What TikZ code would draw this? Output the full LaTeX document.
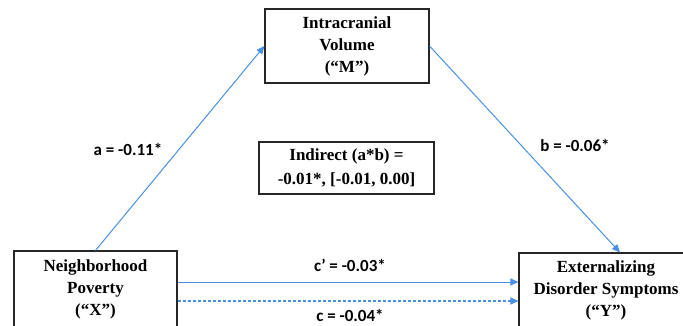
\documentclass[tikz,border=0pt]{standalone}
\usepackage{fontspec}
\setmainfont{Liberation Serif}
\newfontfamily\labfont{Carlito}
\usetikzlibrary{arrows.meta}
\definecolor{arrblue}{RGB}{74,144,226}
\begin{document}
\begin{tikzpicture}[x=1pt,y=1pt,
  box/.style={draw=black!85, line width=1.1pt, align=center, inner sep=0pt,
    font=\fontsize{17}{22}\selectfont\bfseries},
  arr/.style={draw=arrblue, line width=1pt, -{Triangle[length=8pt,width=7pt]}},
  lab/.style={font=\fontsize{17}{20}\selectfont\labfont\bfseries}]
\useasboundingbox (0,0) rectangle (683,325);
\clip (0,0) rectangle (683,325);
\node[box, minimum width=163pt, minimum height=76pt] (X) at (95.5,36) {Neighborhood\\Poverty\\(“X”)};
\node[box, minimum width=174pt, minimum height=74pt] (Y) at (606,35) {Externalizing\\Disorder Symptoms\\(“Y”)};
\node[box, minimum width=164pt, minimum height=74pt] (M) at (347,279) {Intracranial\\Volume\\(“M”)};
\node[box, minimum width=175pt, minimum height=52pt, font=\fontsize{17}{24}\selectfont\bfseries] (I) at (346.5,157) {Indirect (a*b) =\\-0.01*, [-0.01, 0.00]};
\draw[arr] (X.north) -- (M.west);
\draw[arr] (M.east) -- ([xshift=14pt]Y.north);
\draw[arr] (X.east |- 0,43) -- (Y.west |- 0,43);
\draw[arr, line width=1.1pt, dash pattern=on 3pt off 2pt] (X.east |- 0,24) -- (Y.west |- 0,24);
\node[lab] (la) at (128,176) {a = -0.11*};
\node[lab] (lb) at (575,180) {b = -0.06*};
\node[lab] (lc1) at (350,60) {c’ = -0.03*};
\node[lab] (lc) at (350,9.5) {c = -0.04*};
\end{tikzpicture}
\end{document}
